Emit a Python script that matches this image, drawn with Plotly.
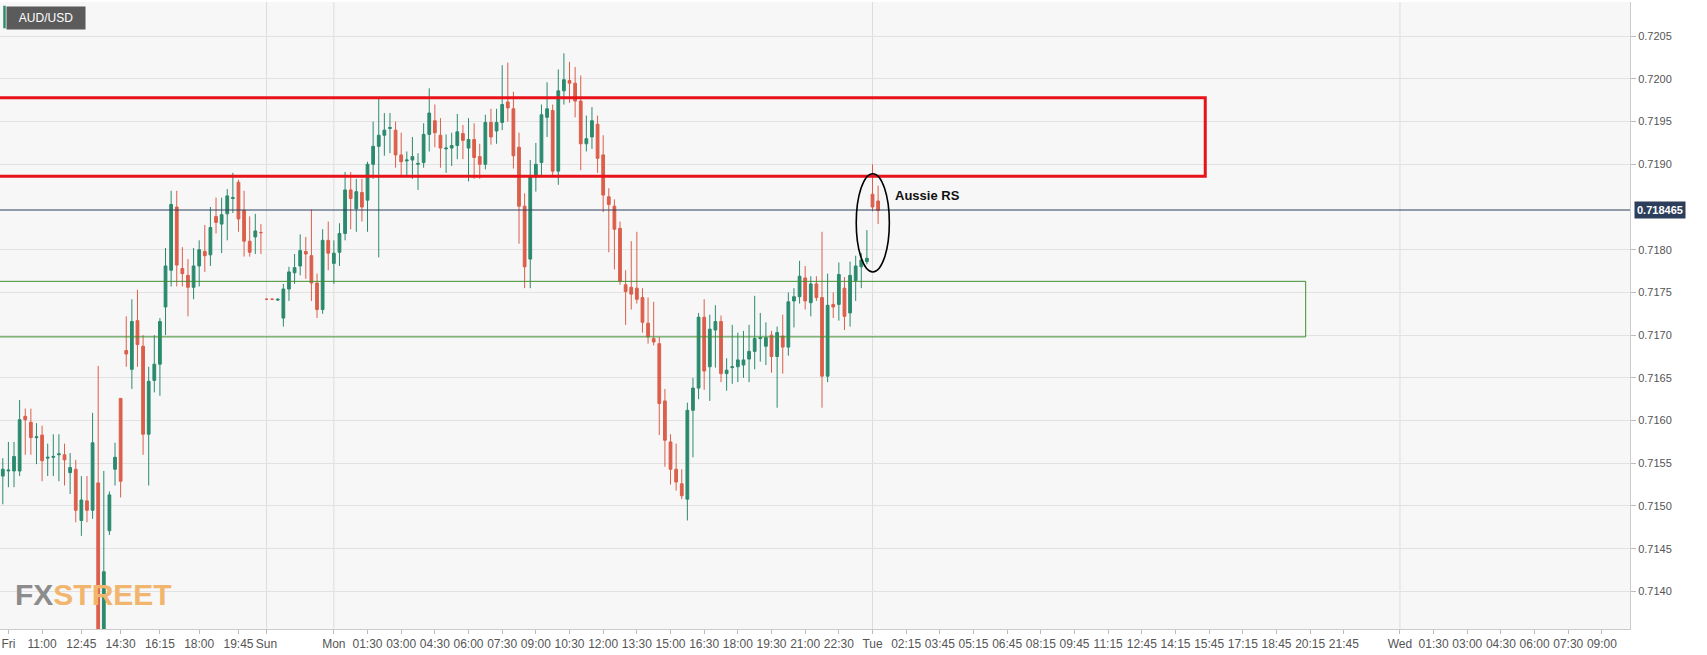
import plotly.graph_objects as go

open_ = [0.71535,0.71541,0.71541,0.71541,0.71605,0.71598,0.71580,0.71583,0.71556,0.71557,
         0.71560,0.71560,0.71539,0.71543,0.71483,0.71506,0.71495,0.71527,0.71335,0.71471,
         0.71543,0.71626,0.71682,0.71660,0.71717,0.71687,0.71584,0.71647,0.71666,0.71733,
         0.71776,0.71850,0.71778,0.71770,0.71756,0.71781,0.71798,0.71794,0.71839,0.71830,
         0.71842,0.71860,0.71879,0.71846,0.71810,0.71815,0.71820,0.71742,0.71742,0.71741,
         0.71720,0.71754,0.71773,0.71781,0.71798,0.71793,0.71761,0.71730,0.71811,0.71784,
         0.71797,0.71819,0.71870,0.71848,0.71867,0.71858,0.71900,0.71921,0.71934,0.71942,
         0.71940,0.71911,0.71904,0.71905,0.71900,0.71902,0.71935,0.71951,0.71934,0.71918,
         0.71919,0.71922,0.71936,0.71919,0.71929,0.71909,0.71900,0.71949,0.71939,0.71949,
         0.71973,0.71965,0.71920,0.71851,0.71789,0.71885,0.71902,0.71955,0.71963,0.71892,
         0.71986,0.71998,0.71995,0.71974,0.71924,0.71932,0.71947,0.71911,0.71862,0.71851,
         0.71825,0.71759,0.71756,0.71755,0.71744,0.71714,0.71696,0.71690,0.71623,0.71575,
         0.71543,0.71526,0.71508,0.71612,0.71638,0.71721,0.71663,0.71706,0.71716,0.71655,
         0.71662,0.71663,0.71665,0.71672,0.71681,0.71696,0.71687,0.71700,0.71675,0.71699,
         0.71686,0.71740,0.71745,0.71767,0.71738,0.71760,0.71744,0.71652,0.71736,0.71736,
         0.71755,0.71726,0.71764,0.71780,0.71786,0.71865,0.71857]
high = [0.71556,0.71575,0.71575,0.71624,0.71614,0.71614,0.71597,0.71594,0.71573,0.71584,
        0.71584,0.71573,0.71562,0.71554,0.71535,0.71535,0.71609,0.71664,0.71541,0.71517,
        0.71574,0.71626,0.71722,0.71742,0.71753,0.71700,0.71663,0.71700,0.71720,0.71802,
        0.71869,0.71869,0.71803,0.71789,0.71802,0.71811,0.71829,0.71850,0.71861,0.71861,
        0.71871,0.71890,0.71882,0.71869,0.71839,0.71842,0.71830,0.71743,0.71743,0.71743,
        0.71760,0.71780,0.71795,0.71818,0.71815,0.71847,0.71772,0.71824,0.71833,0.71811,
        0.71831,0.71891,0.71891,0.71883,0.71883,0.71903,0.71950,0.71978,0.71960,0.71960,
        0.71950,0.71937,0.71915,0.71932,0.71913,0.71948,0.71989,0.71970,0.71954,0.71935,
        0.71937,0.71959,0.71946,0.71954,0.71948,0.71924,0.71958,0.71965,0.71965,0.72016,
        0.72019,0.71985,0.71937,0.71866,0.71905,0.71925,0.71970,0.71996,0.71970,0.72011,
        0.72030,0.72020,0.72014,0.72004,0.71957,0.71967,0.71957,0.71934,0.71872,0.71859,
        0.71833,0.71776,0.71810,0.71821,0.71755,0.71744,0.71739,0.71698,0.71637,0.71584,
        0.71573,0.71543,0.71621,0.71650,0.71726,0.71742,0.71724,0.71735,0.71723,0.71673,
        0.71712,0.71703,0.71705,0.71712,0.71746,0.71726,0.71715,0.71705,0.71710,0.71724,
        0.71750,0.71755,0.71787,0.71781,0.71769,0.71769,0.71821,0.71772,0.71750,0.71785,
        0.71768,0.71786,0.71793,0.71796,0.71823,0.71900,0.71875]
low = [0.71502,0.71522,0.71522,0.71535,0.71560,0.71560,0.71549,0.71529,0.71535,0.71535,
       0.71529,0.71524,0.71514,0.71481,0.71465,0.71481,0.71485,0.71330,0.71330,0.71466,
       0.71524,0.71510,0.71663,0.71637,0.71663,0.71560,0.71524,0.71633,0.71629,0.71700,
       0.71757,0.71757,0.71757,0.71722,0.71742,0.71757,0.71774,0.71781,0.71819,0.71796,
       0.71811,0.71843,0.71821,0.71792,0.71792,0.71795,0.71795,0.71741,0.71741,0.71740,
       0.71710,0.71740,0.71760,0.71770,0.71766,0.71740,0.71720,0.71725,0.71776,0.71760,
       0.71781,0.71811,0.71824,0.71821,0.71833,0.71821,0.71883,0.71791,0.71910,0.71913,
       0.71896,0.71886,0.71885,0.71883,0.71870,0.71896,0.71915,0.71920,0.71896,0.71890,
       0.71898,0.71906,0.71906,0.71880,0.71883,0.71883,0.71894,0.71923,0.71924,0.71940,
       0.71950,0.71895,0.71807,0.71755,0.71755,0.71868,0.71885,0.71932,0.71885,0.71876,
       0.71970,0.71972,0.71955,0.71893,0.71915,0.71918,0.71890,0.71844,0.71797,0.71777,
       0.71759,0.71712,0.71730,0.71737,0.71703,0.71690,0.71688,0.71583,0.71546,0.71525,
       0.71518,0.71508,0.71483,0.71557,0.71625,0.71636,0.71623,0.71662,0.71645,0.71635,
       0.71643,0.71645,0.71650,0.71645,0.71660,0.71669,0.71665,0.71656,0.71615,0.71655,
       0.71676,0.71709,0.71737,0.71730,0.71722,0.71740,0.71615,0.71645,0.71720,0.71717,
       0.71706,0.71710,0.71740,0.71755,0.71783,0.71845,0.71830]
close = [0.71543,0.71542,0.71558,0.71601,0.71601,0.71580,0.71581,0.71553,0.71557,0.71558,
         0.71561,0.71554,0.71545,0.71495,0.71507,0.71495,0.71574,0.71335,0.71423,0.71513,
         0.71557,0.71529,0.71678,0.71716,0.71689,0.71584,0.71646,0.71666,0.71716,0.71781,
         0.71853,0.71782,0.71772,0.71756,0.71781,0.71800,0.71793,0.71826,0.71832,0.71841,
         0.71863,0.71861,0.71836,0.71810,0.71797,0.71822,0.71820,0.71742,0.71742,0.71742,
         0.71754,0.71774,0.71779,0.71799,0.71795,0.71761,0.71730,0.71811,0.71796,0.71796,
         0.71819,0.71870,0.71860,0.71868,0.71850,0.71900,0.71921,0.71934,0.71940,0.71943,
         0.71911,0.71903,0.71905,0.71909,0.71901,0.71935,0.71960,0.71937,0.71919,0.71919,
         0.71922,0.71938,0.71928,0.71929,0.71908,0.71900,0.71949,0.71932,0.71949,0.71970,
         0.71966,0.71910,0.71851,0.71780,0.71885,0.71900,0.71958,0.71965,0.71892,0.71986,
         0.71999,0.71995,0.71974,0.71924,0.71930,0.71951,0.71907,0.71864,0.71853,0.71824,
         0.71763,0.71751,0.71748,0.71742,0.71715,0.71698,0.71692,0.71620,0.71577,0.71543,
         0.71528,0.71512,0.71612,0.71638,0.71721,0.71658,0.71707,0.71716,0.71655,0.71659,
         0.71663,0.71671,0.71671,0.71681,0.71696,0.71697,0.71697,0.71675,0.71703,0.71686,
         0.71739,0.71745,0.71769,0.71740,0.71760,0.71744,0.71652,0.71735,0.71733,0.71771,
         0.71722,0.71770,0.71781,0.71788,0.71790,0.71850,0.71846]

x_idx = list(range(len(close)))

tick_pos = [1, 7, 14, 21, 28, 35, 42, 47, 59, 65, 71, 77, 83, 89, 95, 101, 107, 113, 119,
            125, 131, 137, 143, 149, 155, 161, 167, 173, 179, 185, 191, 197, 203, 209, 215,
            221, 227, 233, 239, 249, 255, 261, 267, 273, 279, 285]
tick_text = ["Fri", "11:00", "12:45", "14:30", "16:15", "18:00", "19:45", "Sun", "Mon",
             "01:30", "03:00", "04:30", "06:00", "07:30", "09:00", "10:30", "12:00", "13:30",
             "15:00", "16:30", "18:00", "19:30", "21:00", "22:30", "Tue", "02:15", "03:45",
             "05:15", "06:45", "08:15", "09:45", "11:15", "12:45", "14:15", "15:45", "17:15",
             "18:45", "20:15", "21:45", "Wed", "01:30", "03:00", "04:30", "06:00", "07:30", "09:00"]
day_pos = [47, 59, 155, 249]
y_ticks = [0.7140, 0.7145, 0.7150, 0.7155, 0.7160, 0.7165, 0.7170, 0.7175, 0.7180,
           0.7190, 0.7195, 0.7200, 0.7205]

last_price = 0.718465
res_zone = (0.71886, 0.71978, 214.3)
sup_zone = (0.71698, 0.71763, 232.2)
circle = (152.1, 158.0, 0.71774, 0.71889)

X_MAX = 290
Y_MIN, Y_MAX = 0.71356, 0.72090

fig = go.Figure()
fig.add_trace(go.Candlestick(
    x=x_idx, open=open_, high=high, low=low, close=close,
    increasing=dict(line=dict(color="#2b8a6e", width=1), fillcolor="#2b8a6e"),
    decreasing=dict(line=dict(color="#db5f4b", width=1), fillcolor="#db5f4b"),
    whiskerwidth=0, showlegend=False, hoverinfo="skip"))

shapes = []
for d in day_pos:
    shapes.append(dict(type="line", xref="x", yref="paper", x0=d, x1=d, y0=0, y1=1,
                       line=dict(color="#dddddd", width=1), layer="below"))
shapes.append(dict(type="rect", x0=-5, x1=res_zone[2], y0=res_zone[0], y1=res_zone[1],
                   line=dict(color="#e8121a", width=3), fillcolor="rgba(0,0,0,0)"))
shapes.append(dict(type="rect", x0=-5, x1=sup_zone[2], y0=sup_zone[0], y1=sup_zone[1],
                   line=dict(color="#3f8f2f", width=1), fillcolor="rgba(0,0,0,0)"))
shapes.append(dict(type="line", xref="paper", x0=0, x1=1, y0=last_price, y1=last_price,
                   line=dict(color="#2c3e5c", width=1)))
shapes.append(dict(type="circle", x0=circle[0], x1=circle[1], y0=circle[2], y1=circle[3],
                   line=dict(color="#000000", width=1.6)))
shapes.append(dict(type="rect", xref="paper", yref="paper", x0=0.002, x1=0.0035, y0=0.958, y1=0.994,
                   line=dict(width=0), fillcolor="#2b8a6e"))

annotations = [
    dict(x=158.6, y=0.71863, text="<b>Aussie RS</b>", showarrow=False, xanchor="left",
         font=dict(family="Liberation Sans, Arial", size=13, color="#111111")),
    dict(xref="paper", yref="y", x=1.0, y=last_price, text="<b>0.718465</b>", showarrow=False,
         xanchor="left", xshift=4, bgcolor="#2c3e5c", borderpad=2,
         font=dict(family="Liberation Sans, Arial", size=11, color="#ffffff")),
    dict(xref="paper", yref="paper", x=0.0035, y=0.994, text="AUD/USD", showarrow=False,
         xanchor="left", yanchor="top", bgcolor="#5b5b5b", borderpad=4, width=70, align="center",
         font=dict(family="Liberation Sans, Arial", size=12, color="#ffffff")),
    dict(xref="paper", yref="paper", x=0.008, y=0.025, xanchor="left", yanchor="bottom",
         showarrow=False,
         text="<b><span style='color:#8c8c8c'>FX</span><span style='color:#f2b56e'>STREET</span></b>",
         font=dict(family="Liberation Sans Narrow, Arial Narrow, Liberation Sans", size=30)),
]

fig.update_layout(
    width=1707, height=655,
    margin=dict(l=0, r=77, t=2, b=26),
    paper_bgcolor="#ffffff", plot_bgcolor="#f7f7f7",
    shapes=shapes, annotations=annotations,
    font=dict(family="Liberation Sans, Arial", size=12, color="#555555"),
    xaxis=dict(range=[-0.5, X_MAX], tickmode="array", tickvals=tick_pos, ticktext=tick_text,
               showgrid=False, zeroline=False, rangeslider=dict(visible=False),
               ticks="outside", ticklen=4, tickcolor="#bbbbbb", showline=True,
               linecolor="#cccccc", tickfont=dict(size=12, color="#555555")),
    yaxis=dict(range=[Y_MIN, Y_MAX], side="right", tickmode="array", tickvals=y_ticks,
               tickformat=".4f", gridcolor="#e2e2e2", zeroline=False, ticks="outside",
               ticklen=5, tickcolor="#bbbbbb", showline=True, linecolor="#cccccc",
               tickfont=dict(size=11, color="#555555")),
)

fig.write_html("out.html", config={"displayModeBar": False},
               post_script="document.body.style.margin='0';document.body.style.overflow='hidden';")
